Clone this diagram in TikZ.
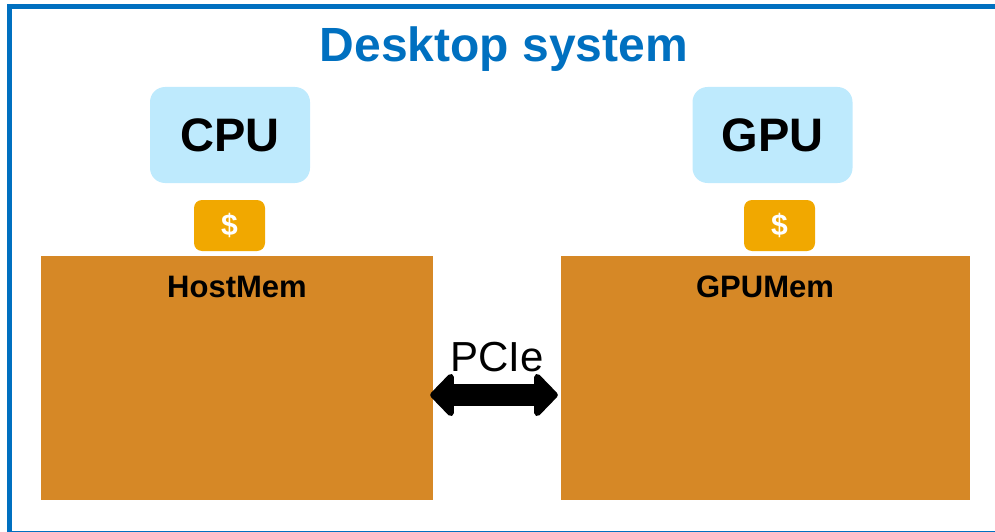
\documentclass[tikz,border=0pt]{standalone}
\usepackage{fontspec}
\setmainfont{Liberation Sans}
\usetikzlibrary{arrows.meta}

\definecolor{framblue}{RGB}{0,112,192}
\definecolor{chipblue}{RGB}{190,234,253}
\definecolor{cacheorange}{RGB}{241,168,0}
\definecolor{memorange}{RGB}{214,136,38}

\tikzset{
	chip/.style={fill=chipblue, rounded corners=15pt, minimum width=160pt, minimum height=96pt, inner sep=0pt, font=\fontsize{47}{50}\selectfont\bfseries},
	cache/.style={fill=cacheorange, rounded corners=8pt, minimum width=71pt, minimum height=51pt, inner sep=0pt, text=white, font=\fontsize{30}{34}\selectfont\bfseries},
	mem/.style={fill=memorange, inner sep=0pt, minimum height=244pt},
	memlabel/.style={anchor=base, inner sep=0pt, font=\fontsize{31}{34}\selectfont\bfseries},
	bustip/.tip={Triangle[length=25pt, width=50pt, round]},
}

\begin{document}
\begin{tikzpicture}[x=1pt, y=-1pt]
	\useasboundingbox (0,0) rectangle (995,532);
	\clip (0,0) rectangle (995,532);

	%% Rahmen
	\draw[framblue, line width=5pt] (9.5,6.5) rectangle (1005,533);
	\node[anchor=base, inner sep=0pt, text=framblue, font=\fontsize{48}{52}\selectfont\bfseries] (title) at (504,62) {Desktop system};
	%%%%%%%%%%%%%%%%

	%% Host
	\node[chip] (cpu) at (230,135) {CPU};
	\node[cache] (cpucache) at (229.5,225.5) {\$};
	\node[mem, minimum width=392pt] (hostmem) at (237,378) {};
	\node[memlabel] (hostlabel) at (237,297) {HostMem};

	%% Device
	\node[chip] (gpu) at (772.5,135) {GPU};
	\node[cache] (gpucache) at (779.5,225.5) {\$};
	\node[mem, minimum width=409pt] (gpumem) at (765.5,378) {};
	\node[memlabel] (gpulabel) at (765,297) {GPUMem};

	%% Bus
	\draw[line width=22pt, bustip-bustip, shorten <=-3pt, shorten >=3pt] ([yshift=-17pt]hostmem.east) -- ([yshift=-17pt]gpumem.west) node[midway, above=12pt, inner sep=0pt, font=\fontsize{42}{46}\selectfont] (pcie) {PCIe};
\end{tikzpicture}
\end{document}
